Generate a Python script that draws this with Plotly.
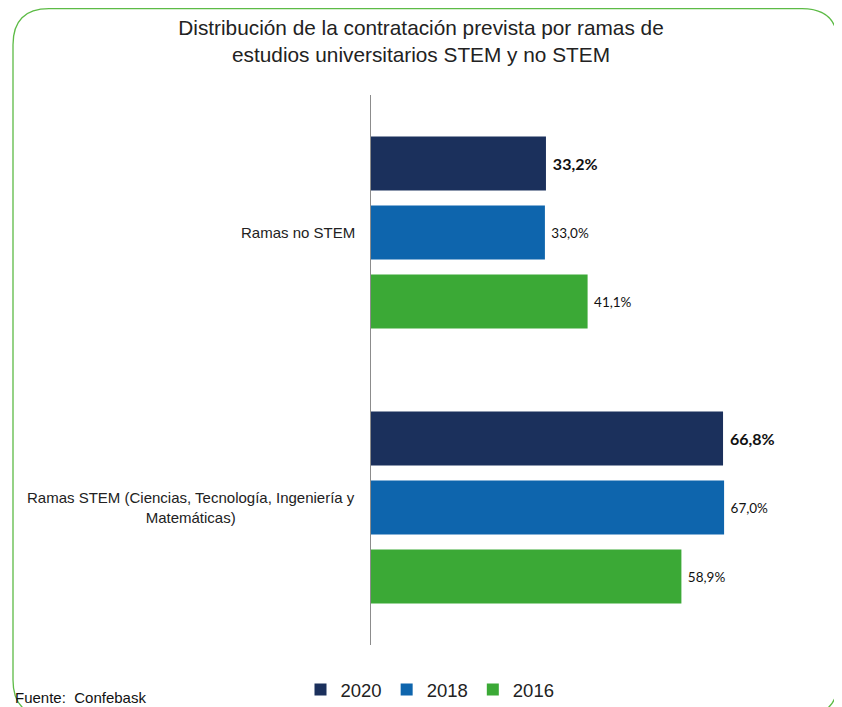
import plotly.graph_objects as go

categories = ["Ramas no STEM", "Ramas STEM"]
category_labels = ["Ramas no STEM", "Ramas STEM (Ciencias, Tecnología, Ingeniería y<br>Matemáticas)"]
years = ["2020", "2018", "2016"]
values_2020 = [33.2, 66.8]
values_2018 = [33.0, 67.0]
values_2016 = [41.1, 58.9]
series = [values_2020, values_2018, values_2016]
colors = ["#1B305C", "#0E65AD", "#3BA936"]

OFF = 8  # browser default body margin
W, H = 842 - OFF, 707 - OFF
# plot area in screen pixels: left 371, right ~792, top 95, bottom 645
ML, MR, MT, MB = 371 - OFF, 842 - 792, 95 - OFF, 707 - 645
PW, PH = W - ML - MR, H - MT - MB

def px_x(p):
    return (p - OFF - ML) / PW

def px_y(p):
    return (H - MB - (p - OFF)) / PH

def fmt(v):
    return f"{v:.1f}".replace(".", ",") + "%"

fig = go.Figure()
for i, (yr, vals, col) in enumerate(zip(years, series, colors)):
    bold = i == 0
    fig.add_trace(go.Bar(
        y=categories, x=vals, name=yr, orientation="h",
        marker=dict(color=col, line=dict(width=0)),
        text=[fmt(v) for v in vals],
        texttemplate=" %{text}",
        textposition="outside",
        cliponaxis=False,
        textfont=dict(family="Lato, Open Sans, sans-serif",
                      size=16 if bold else 13.5,
                      color="#111",
                      weight="bold" if bold else "normal"),
    ))

annotations = []
for cat, lab in zip(categories, category_labels):
    annotations.append(dict(
        x=0, xref="paper", y=cat, yref="y", xshift=-14,
        text=lab, showarrow=False, xanchor="right", align="center",
        font=dict(family="Liberation Sans, Arial", size=15, color="#222"),
    ))
annotations.append(dict(
    x=px_x(16), y=px_y(697), xref="paper", yref="paper",
    text="Fuente:  Confebask", showarrow=False, xanchor="left", yanchor="middle",
    xshift=-3,
    font=dict(family="Liberation Sans Narrow, Liberation Sans, Arial", size=15, color="#111"),
))

def P(x, y):
    return f"{px_x(x)},{px_y(y)}"
R = 36
L_, T_, R_, B_ = 13, 8.7, 838, 716
path = (f"M {P(L_, T_+R)} Q {P(L_, T_)} {P(L_+R, T_)} L {P(R_-R, T_)} "
        f"Q {P(R_, T_)} {P(R_, T_+R)} L {P(R_, B_-R)} Q {P(R_, B_)} {P(R_-R, B_)} "
        f"L {P(L_+R, B_)} Q {P(L_, B_)} {P(L_, B_-R)} Z")

fig.update_layout(
    width=W, height=H,
    margin=dict(l=ML, r=MR, t=MT, b=MB),
    paper_bgcolor="white", plot_bgcolor="white",
    barmode="group", bargap=0.247, bargroupgap=0.217,
    title=dict(text="Distribución de la contratación prevista por ramas de<br>estudios universitarios STEM y no STEM",
               x=(421 - OFF) / W, xanchor="center", y=1 - 27 / H, yanchor="top",
               font=dict(family="Liberation Sans, Arial", size=20.8, color="#222")),
    xaxis=dict(range=[0, PW / 5.27], visible=False),
    yaxis=dict(autorange="reversed", showticklabels=False, showline=True,
               linecolor="#8c8c8c", linewidth=1, ticks="", showgrid=False, zeroline=False),
    legend=dict(orientation="h", xref="container", yref="container",
                x=(430 - OFF) / W, xanchor="center", y=(707 - 690) / H, yanchor="middle",
                font=dict(family="Liberation Sans, Arial", size=18.5, color="#222"),
                itemwidth=30, tracegroupgap=0, itemclick=False),
    showlegend=True,
    annotations=annotations,
    shapes=[dict(type="path", path=path, xref="paper", yref="paper",
                 line=dict(color="#5DBB46", width=1.3), fillcolor="rgba(0,0,0,0)", layer="below")],
)

fig.write_html("out.html")
